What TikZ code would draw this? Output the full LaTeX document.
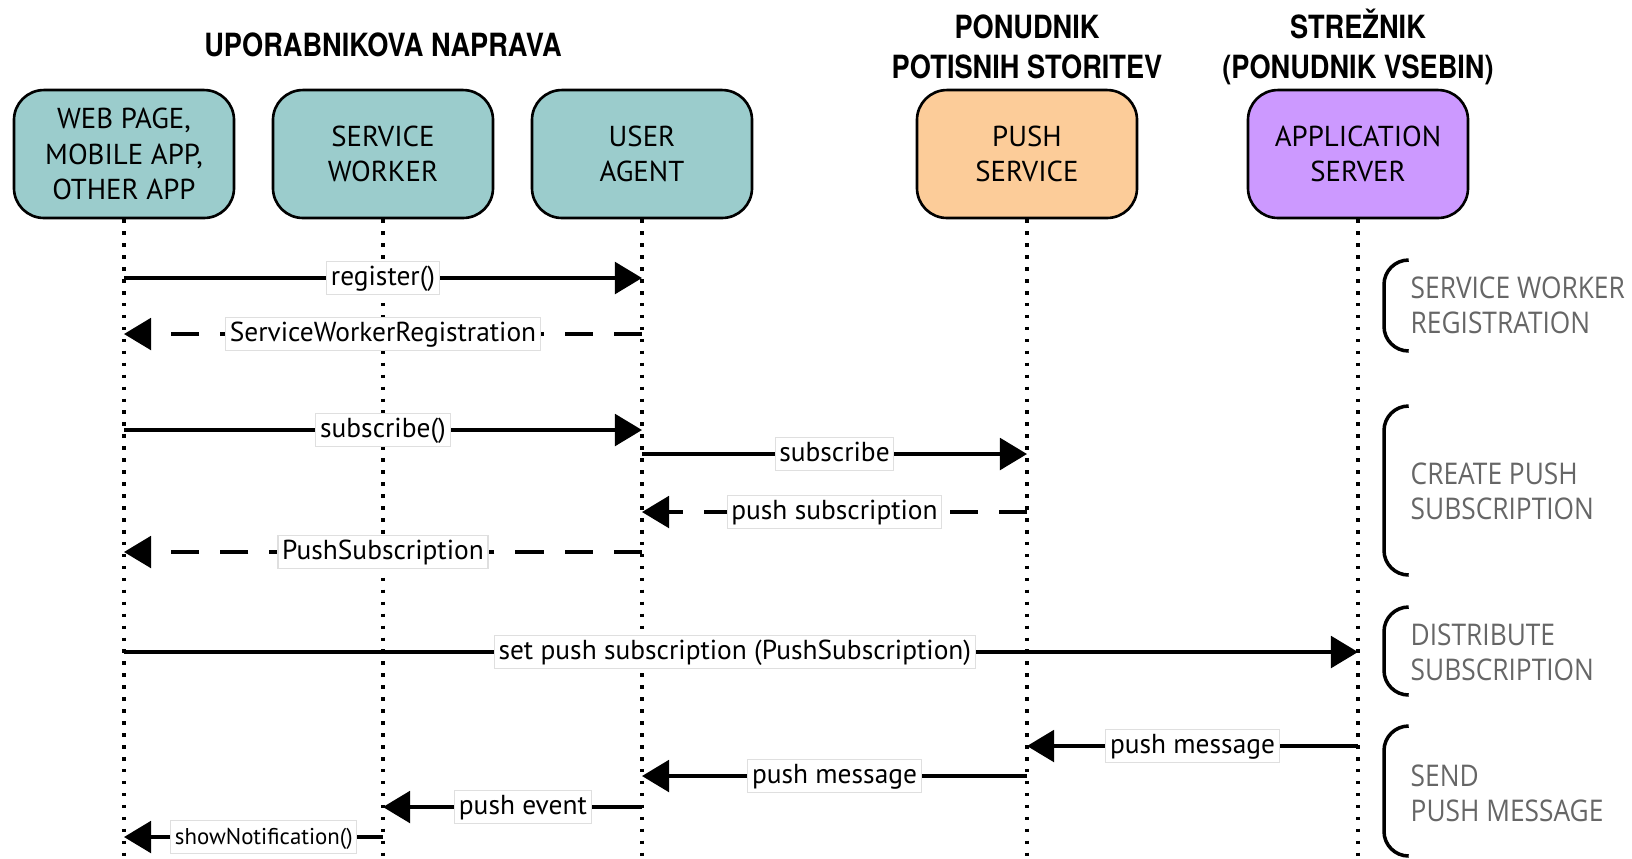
\documentclass[tikz,border=0pt]{standalone}
\usepackage{fontspec}
\setmainfont{PT Sans}
\newfontfamily\headfont[FakeStretch=0.85]{TeX Gyre Heros}
\newfontfamily\phasefont[FakeStretch=0.88]{Open Sans}
\usepackage{tikz}
\usetikzlibrary{arrows.meta}
\definecolor{devcol}{RGB}{155,204,204}
\definecolor{pushcol}{RGB}{252,204,153}
\definecolor{servcol}{RGB}{204,153,255}
\definecolor{phasecol}{RGB}{102,102,102}
\tikzstyle{actor} = [draw, line width=0.75pt, rounded corners=8.5pt, minimum width=62.6pt, minimum height=36.4pt, align=center, font=\fontsize{8.2}{10}\selectfont]
\tikzstyle{head} = [align=center, font=\headfont\bfseries\fontsize{9.1}{11.4}\selectfont]
\tikzstyle{life} = [line width=1pt, dash pattern=on 1pt off 2.4pt]
\tikzstyle{msg} = [line width=1pt, -{Triangle[length=7.7pt,width=9pt]}]
\tikzstyle{reply} = [msg, dash pattern=on 8pt off 6pt]
\tikzstyle{lbl} = [solid, fill=white, draw=gray!25, line width=0.3pt, inner xsep=1.2pt, inner ysep=0.6pt, text height=6.2pt, text depth=2pt, font=\fontsize{7.8}{9}\selectfont]
\tikzstyle{phase} = [line width=1pt, rounded corners=7pt]
\tikzstyle{phasetxt} = [anchor=west, align=left, inner sep=0pt, text=phasecol, font=\phasefont\fontsize{8.5}{10}\selectfont]

\begin{document}
\begin{tikzpicture}[x=0.1mm, y=-0.1mm]
	\useasboundingbox (0,0) rectangle (1632,858);

	% participants
	\node[actor, fill=devcol] (wp) at (124,154) {WEB PAGE,\\MOBILE APP,\\OTHER APP};
	\node[actor, fill=devcol] (sw) at (383,154) {SERVICE\\WORKER};
	\node[actor, fill=devcol] (ua) at (642,154) {USER\\AGENT};
	\node[actor, fill=pushcol] (ps) at (1027,154) {PUSH\\SERVICE};
	\node[actor, fill=servcol] (as) at (1358,154) {APPLICATION\\SERVER};

	\node[head] (dev) at (383,45) {UPORABNIKOVA NAPRAVA};
	\node[head] (prov) at (1027,47) {PONUDNIK\\POTISNIH STORITEV};
	\node[head] (srv) at (1358,47) {STREŽNIK\\(PONUDNIK VSEBIN)};

	% lifelines
	\foreach \a in {wp,sw,ua,ps,as}
		\draw[life] (\a.south) -- (\a |- 0,858);

	% messages
	\draw[msg] (wp |- 0,278) -- node[lbl] {register()} (ua |- 0,278);
	\draw[reply] (ua |- 0,334) -- node[lbl] {ServiceWorkerRegistration} (wp |- 0,334);
	\draw[msg] (wp |- 0,430) -- node[lbl] {subscribe()} (ua |- 0,430);
	\draw[msg] (ua |- 0,454) -- node[lbl] {subscribe} (ps |- 0,454);
	\draw[reply] (ps |- 0,512) -- node[lbl] {push subscription} (ua |- 0,512);
	\draw[reply] (ua |- 0,552) -- node[lbl] {PushSubscription} (wp |- 0,552);
	\draw[msg] (wp |- 0,652) -- node[lbl, pos=0.495] {set push subscription (PushSubscription)} (as |- 0,652);
	\draw[msg] (as |- 0,746) -- node[lbl] {push message} (ps |- 0,746);
	\draw[msg] (ps |- 0,776) -- node[lbl] {push message} (ua |- 0,776);
	\draw[msg] (ua |- 0,807) -- node[lbl, pos=0.46] {push event} (sw |- 0,807);
	\draw[msg] (sw |- 0,837) -- node[lbl, pos=0.46, font=\fontsize{6.5}{8}\selectfont] {showNotification()} (wp |- 0,837);

	% phases
	\draw[phase] (1408,260) -- (1384,260) -- (1384,351) -- (1408,351);
	\node[phasetxt] (reg) at (1410,305) {SERVICE WORKER\\REGISTRATION};
	\draw[phase] (1408,406) -- (1384,406) -- (1384,575) -- (1408,575);
	\node[phasetxt] (sub) at (1410,491) {CREATE PUSH\\SUBSCRIPTION};
	\draw[phase] (1408,607) -- (1384,607) -- (1384,695) -- (1408,695);
	\node[phasetxt] (dist) at (1410,652) {DISTRIBUTE\\SUBSCRIPTION};
	\draw[phase] (1408,726) -- (1384,726) -- (1384,856) -- (1408,856);
	\node[phasetxt] (send) at (1410,793) {SEND\\PUSH MESSAGE};
\end{tikzpicture}
\end{document}
